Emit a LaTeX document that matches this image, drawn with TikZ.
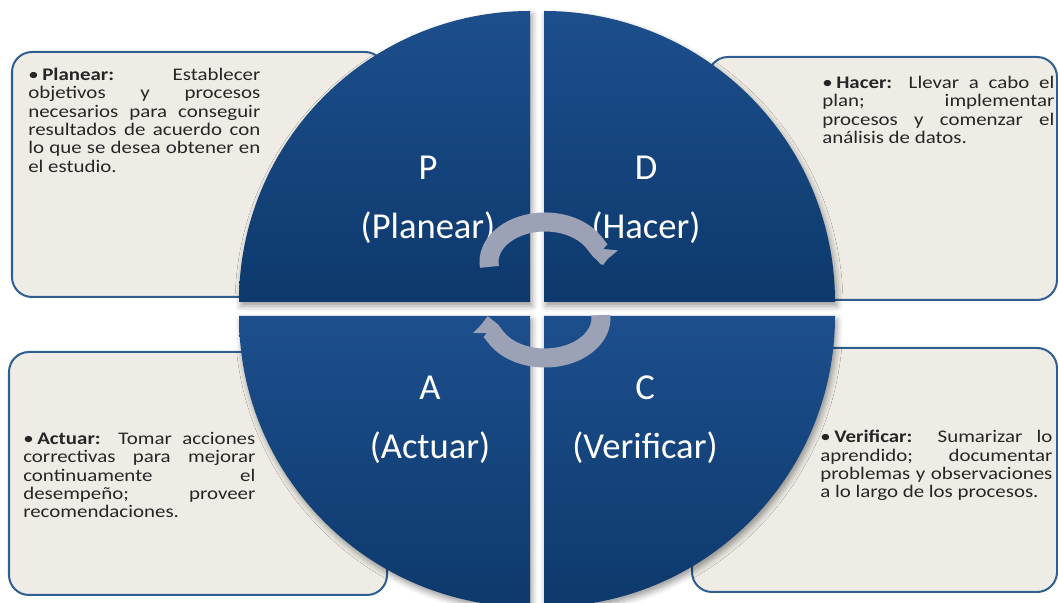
\documentclass[tikz,border=0pt]{standalone}
\usepackage{fontspec}
\setmainfont{Carlito}
\newfontfamily\notefont{Carlito}[FakeStretch=1.18]
\usetikzlibrary{arrows.meta,shadows.blur}
\definecolor{boxfill}{HTML}{EEECE5}
\definecolor{boxline}{HTML}{2F5E92}
\definecolor{quadtop}{HTML}{1D4F8D}
\definecolor{quadbot}{HTML}{0D396C}
\definecolor{cyclegray}{HTML}{9BA2B5}
\newcommand{\phasenote}[2]{\hangindent=0.35cm\hangafter=1\makebox[0.35cm][l]{\textbullet}\textbf{#1:} #2}

\begin{document}
\begin{tikzpicture}[x=0.025cm,y=0.025cm,
  infobox/.style={draw=boxline,line width=0.05cm,fill=boxfill,rounded corners=0.5cm},
  quarter/.style={top color=quadtop,bottom color=quadbot,
    blur shadow={shadow xshift=0.05cm,shadow yshift=-0.1cm,shadow blur radius=0.15cm,shadow opacity=40}},
  infotext/.style={text width=5.8cm,align=justify,inner sep=0pt,anchor=north west,
    font=\notefont\fontsize{12.6}{13}\selectfont,text=black!85},
  phase/.style={text=white,align=center,font=\fontsize{26}{42}\selectfont},
  cyclearrow/.style={draw=cyclegray,line width=0.475cm,-{Triangle[length=0.4cm,width=0.75cm]}}]
\clip (0,0) rectangle (1058,603);

\draw[infobox] (12,551) rectangle (385,306);
\draw[infobox] (708,546) rectangle (1057,303);
\draw[infobox] (9,251) rectangle (387,8);
\draw[infobox] (692,255) rectangle (1057,11);

\node[infotext] (plantext) at (28,535) {\phasenote{Planear}{Establecer\linebreak objetivos y procesos\linebreak necesarios para conseguir\linebreak resultados de acuerdo con\linebreak lo que se desea obtener en\linebreak el estudio.}};
\node[infotext] (dotext) at (822,527) {\phasenote{Hacer}{Llevar a cabo el\linebreak plan; implementar\linebreak procesos y comenzar el\linebreak análisis de datos.}};
\node[infotext] (acttext) at (23,171) {\phasenote{Actuar}{Tomar acciones\linebreak correctivas para mejorar\linebreak continuamente el\linebreak desempeño; proveer\linebreak recomendaciones.}};
\node[infotext] (checktext) at (820,173) {\phasenote{Verificar}{Sumarizar lo\linebreak aprendido; documentar\linebreak problemas y observaciones\linebreak a lo largo de los procesos.}};

\shade[quarter] (530,301) -- (239,301) arc[start angle=180,end angle=90,radius=291] -- cycle;
\shade[quarter] (544,301) -- (544,592) arc[start angle=90,end angle=0,radius=291] -- cycle;
\shade[quarter] (530,287) -- (239,287) arc[start angle=180,end angle=270,radius=291] -- cycle;
\shade[quarter] (544,287) -- (835,287) arc[start angle=0,end angle=-90,radius=291] -- cycle;

\node[phase] (plan) at (428,403) {P\\(Planear)};
\node[phase] (do) at (646,403) {D\\(Hacer)};
\node[phase] (act) at (430,183) {A\\(Actuar)};
\node[phase] (check) at (645,183) {C\\(Verificar)};

\draw[cyclearrow] (545,341) ++(187:56 and 40) arc[start angle=187,end angle=-4,x radius=56,y radius=40];
\draw[cyclearrow] (545,285) ++(4:56 and 40) arc[start angle=4,end angle=-181,x radius=56,y radius=40];
\end{tikzpicture}
\end{document}
